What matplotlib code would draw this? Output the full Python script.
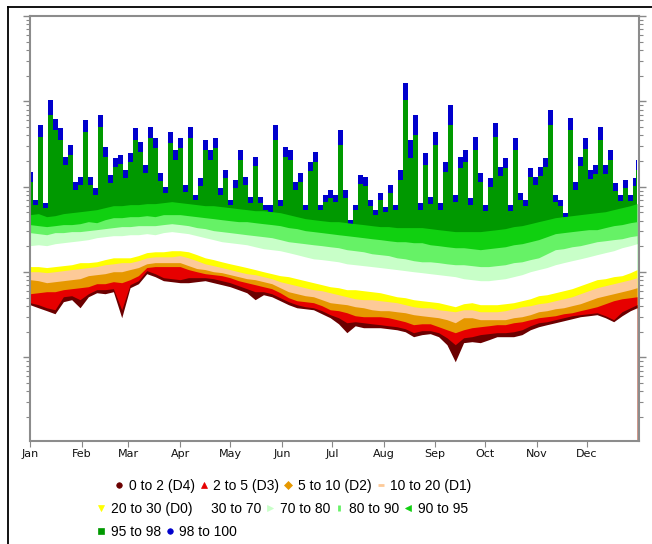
import matplotlib
matplotlib.use("Agg")
import matplotlib.pyplot as plt
from matplotlib.lines import Line2D

# day of year for the spiky top curves (every 3 days) and the other curves (every 5 days)
days_top = list(range(1, 365, 3)) + [365]
days = list(range(1, 362, 5)) + [365]

# percentile curves (log axis, discharge units)
p100 = [1500, 706, 5350, 651, 10500, 6290, 4930, 2250, 3120, 1150,
        1310, 6120, 1310, 977, 7000, 2950, 1387, 2190, 2380, 1585,
        2510, 4930, 3380, 1815, 5070, 3770, 1465, 1000, 4420, 2720,
        3770, 1058, 5070, 808, 1280, 3570, 2720, 3770, 977, 1585,
        706, 1211, 2720, 1310, 765, 2250, 765, 617, 617, 5350,
        706, 2950, 2720, 1150, 1465, 617, 1970, 2580, 617, 808,
        925, 808, 4670, 925, 411, 617, 1387, 1310, 706, 539,
        853, 584, 1058, 617, 1585, 16620, 3570, 7000, 651, 2510,
        765, 4420, 651, 1970, 9180, 808, 2250, 2720, 745, 3870,
        1465, 617, 1280, 5650, 1720, 2190, 617, 3770, 853, 706,
        1670, 1310, 1720, 2190, 8020, 808, 706, 497, 6460, 1150,
        2250, 3770, 1585, 1815, 5070, 1815, 2720, 1120, 808, 1211,
        808, 1280, 2080]
p98 = [1150, 617, 3860, 568, 7000, 4670, 3570, 1815, 2380, 925,
       1058, 4420, 1058, 808, 5070, 2250, 1120, 1720, 1865, 1280,
       1970, 3570, 2580, 1465, 3770, 2870, 1178, 853, 3290, 2080,
       2870, 876, 3770, 706, 1030, 2720, 2080, 2870, 808, 1280,
       617, 977, 2080, 1058, 651, 1766, 651, 539, 511, 3570,
       600, 2250, 2080, 925, 1150, 539, 1540, 1970, 539, 669,
       745, 669, 3120, 745, 370, 539, 1087, 1030, 600, 471,
       706, 511, 853, 539, 1211, 10500, 2190, 4080, 539, 1815,
       634, 3120, 539, 1500, 5350, 669, 1670, 1970, 617, 2720,
       1150, 524, 1000, 3860, 1350, 1670, 524, 2720, 706, 600,
       1310, 1058, 1350, 1720, 5350, 669, 600, 436, 4670, 925,
       1766, 2800, 1245, 1425, 3570, 1425, 2080, 900, 687, 977,
       687, 1030, 1585]
p95 = [471, 484, 446, 458, 484, 497, 510, 524, 539, 569,
       600, 600, 617, 617, 634, 634, 651, 669, 651, 634,
       617, 600, 600, 584, 569, 553, 539, 524, 524, 510,
       497, 471, 446, 423, 411, 400, 390, 390, 379, 369,
       360, 350, 341, 341, 332, 332, 332, 332, 323, 314,
       306, 298, 298, 298, 298, 306, 314, 323, 341, 350,
       369, 390, 411, 434, 446, 458, 471, 484, 497, 510,
       539, 569, 600, 634]
p90 = [360, 350, 341, 350, 360, 360, 369, 390, 379, 411,
       434, 434, 446, 446, 458, 446, 471, 471, 471, 458,
       446, 434, 423, 411, 400, 390, 390, 379, 369, 360,
       350, 332, 323, 306, 298, 290, 282, 274, 267, 260,
       253, 246, 240, 233, 227, 227, 221, 221, 209, 204,
       198, 193, 193, 188, 183, 188, 193, 198, 209, 215,
       227, 240, 260, 282, 290, 298, 306, 314, 314, 332,
       350, 360, 379, 390]
p80 = [290, 282, 274, 290, 290, 298, 298, 306, 314, 323,
       332, 341, 341, 350, 350, 350, 360, 369, 360, 350,
       332, 323, 306, 298, 290, 282, 274, 267, 260, 253,
       240, 227, 221, 215, 209, 204, 198, 193, 183, 178,
       173, 164, 160, 156, 147, 143, 136, 132, 132, 129,
       125, 122, 122, 119, 116, 116, 119, 122, 129, 132,
       140, 147, 164, 183, 188, 198, 204, 215, 227, 233,
       240, 246, 260, 267]
p70 = [204, 209, 204, 215, 221, 227, 233, 240, 253, 260,
       267, 267, 274, 274, 282, 274, 290, 298, 290, 282,
       267, 253, 240, 227, 221, 215, 209, 198, 188, 183,
       178, 169, 160, 151, 143, 140, 136, 132, 125, 122,
       119, 116, 113, 110, 107, 104, 101, 98.5, 95.8, 93.3,
       90.8, 88.4, 83.7, 81.5, 79.3, 79.3, 81.5, 83.7, 88.4, 93.3,
       101, 107, 113, 122, 129, 136, 143, 151, 160, 169,
       178, 193, 204, 215]
p30 = [116, 116, 113, 116, 119, 122, 129, 129, 132, 140,
       147, 147, 147, 156, 169, 173, 173, 178, 178, 173,
       160, 147, 140, 132, 125, 119, 113, 107, 101, 95.8,
       90.8, 88.4, 83.7, 79.3, 75.1, 71.2, 67.4, 65.6, 62.2, 62.2,
       60.5, 58.9, 57.3, 54.3, 51.4, 50.1, 47.5, 46.2, 45.0, 43.8,
       41.5, 39.3, 42.6, 43.8, 41.5, 41.5, 41.5, 42.6, 43.8, 46.2,
       48.7, 52.9, 54.3, 57.3, 60.5, 63.9, 69.3, 75.1, 81.5, 83.7,
       88.4, 90.8, 98.5, 107]
p20 = [101, 101, 98.5, 101, 104, 107, 110, 113, 116, 122,
       125, 129, 129, 136, 147, 151, 151, 151, 156, 147,
       136, 125, 119, 113, 107, 101, 95.8, 93.3, 88.4, 83.7,
       77.2, 73.1, 69.3, 65.6, 62.2, 60.5, 57.3, 54.3, 51.4, 48.7,
       47.5, 47.5, 46.2, 45.0, 43.8, 41.5, 39.3, 38.2, 38.2, 36.2,
       35.3, 34.3, 36.2, 36.2, 34.3, 34.3, 34.3, 35.3, 37.2, 39.3,
       40.4, 42.6, 43.8, 46.2, 48.7, 51.4, 55.8, 60.5, 65.6, 69.3,
       73.1, 77.2, 81.5, 86.0]
p10 = [81.5, 79.3, 75.1, 77.2, 79.3, 81.5, 83.7, 90.8, 93.3, 95.8,
       101, 101, 107, 113, 125, 129, 129, 129, 129, 119,
       110, 107, 101, 98.5, 93.3, 88.4, 83.7, 81.5, 77.2, 73.1,
       65.6, 58.9, 55.8, 52.9, 51.4, 47.5, 43.8, 42.6, 41.5, 39.3,
       38.2, 36.2, 35.3, 35.3, 34.3, 33.4, 31.7, 30.8, 30.0, 29.2,
       27.7, 25.5, 29.2, 29.2, 27.7, 27.7, 27.7, 27.7, 29.2, 30.0,
       31.7, 34.3, 35.3, 37.2, 38.2, 40.4, 42.6, 46.2, 50.1, 52.9,
       55.8, 58.9, 62.2, 65.6]
p5 = [55.8, 57.3, 58.9, 58.9, 62.2, 63.9, 65.6, 67.4, 73.1, 73.1,
      77.2, 75.1, 81.5, 90.8, 113, 116, 116, 116, 116, 107,
      101, 95.8, 93.3, 90.8, 86.0, 79.3, 75.1, 71.2, 67.4, 63.9,
      57.3, 50.1, 46.2, 45.0, 43.8, 40.4, 36.2, 35.3, 33.4, 30.8,
      30.0, 30.0, 30.0, 29.2, 27.7, 26.2, 24.2, 24.8, 24.8, 22.9,
      21.1, 19.5, 21.1, 22.3, 22.9, 23.5, 24.2, 24.2, 25.5, 26.2,
      27.7, 29.2, 30.0, 30.8, 32.5, 33.4, 35.3, 37.2, 39.3, 42.6,
      46.2, 48.7, 50.1, 51.4]
p2 = [43.8, 41.5, 38.2, 36.2, 51.4, 52.9, 47.5, 55.8, 62.2, 62.2,
      63.9, 36.2, 71.2, 79.3, 104, 95.8, 86.0, 83.7, 81.5, 86.0,
      86.0, 86.0, 83.7, 79.3, 75.1, 69.3, 63.9, 58.9, 58.9, 55.8,
      50.1, 45.0, 41.5, 39.3, 38.2, 35.3, 31.7, 29.2, 25.5, 26.2,
      25.5, 24.8, 24.2, 23.5, 22.9, 21.7, 19.5, 20.6, 20.6, 19.5,
      17.0, 14.1, 17.0, 17.5, 18.5, 19.0, 19.5, 19.5, 20.0, 21.1,
      23.5, 25.5, 26.2, 27.7, 29.2, 30.8, 31.7, 32.5, 33.4, 30.8,
      27.7, 34.3, 38.2, 41.5]
p0 = [41.5, 38.2, 35.3, 32.5, 45.0, 47.5, 38.2, 51.4, 57.3, 55.8,
      58.9, 29.2, 65.6, 73.1, 95.8, 88.4, 79.3, 77.2, 75.1, 75.1,
      77.2, 79.3, 75.1, 71.2, 67.4, 62.2, 57.3, 47.5, 54.3, 51.4,
      46.2, 41.5, 38.2, 37.2, 36.2, 32.5, 29.2, 24.8, 19.5, 23.5,
      22.3, 22.3, 22.3, 21.7, 21.1, 20.0, 17.5, 18.5, 19.0, 17.5,
      14.1, 8.9, 14.9, 15.3, 14.9, 16.1, 17.5, 17.5, 17.5, 18.5,
      21.1, 22.9, 24.2, 25.5, 26.9, 28.4, 30.0, 30.8, 31.7, 29.2,
      26.2, 30.8, 35.3, 38.2]

month_days = [1, 32, 60, 91, 121, 152, 182, 213, 244, 274, 305, 335]
month_labels = ['Jan', 'Feb', 'Mar', 'Apr', 'May', 'Jun',
                'Jul', 'Aug', 'Sep', 'Oct', 'Nov', 'Dec']

band_labels = ['0 to 2 (D4)', '2 to 5 (D3)', '5 to 10 (D2)', '10 to 20 (D1)',
               '20 to 30 (D0)', '30 to 70', '70 to 80', '80 to 90', '90 to 95',
               '95 to 98', '98 to 100']
band_colors = ['#6b0000', '#e60000', '#e69800', '#fdca98',
               '#ffff00', '#ffffff', '#c8ffc8', '#66f266', '#10d010',
               '#009900', '#0000cc']
band_markers = ['o', '^', 'D', '_', 'v', 'None', '>', '|', '<', 's', 'o']

fig = plt.figure(figsize=(6.52, 5.44), dpi=100)
ax = fig.add_axes([30/652, 1 - 441/544, 608.7/652, 425/544])
ax.set_yscale('log')

floor = 1e-3
# each curve filled down to the floor, top curve first, so the bands stack
ax.fill_between(days_top, p100, floor, color=band_colors[10], lw=0, step='mid')
ax.fill_between(days_top, p98, floor, color=band_colors[9], lw=0, step='mid')
layers = [(p95, 8), (p90, 7), (p80, 6), (p70, 5), (p30, 4),
          (p20, 3), (p10, 2), (p5, 1), (p2, 0)]
for curve, ci in layers:
    ax.fill_between(days, curve, floor, color=band_colors[ci], lw=0)
ax.fill_between(days, p0, floor, color='white', lw=0)

ax.set_xlim(1, 366)
ax.set_ylim(1.05, 1.0e5)

ax.set_xticks(month_days)
ax.set_xticklabels(month_labels, fontsize=8, color='#111111')
ax.tick_params(axis='x', direction='out', length=4, color='#888888', pad=2, top=False)
ax.tick_params(axis='y', which='both', left=True, right=True, labelleft=False,
               direction='out', color='#888888')
ax.tick_params(axis='y', which='major', length=5, width=1)
ax.tick_params(axis='y', which='minor', length=3, width=0.8)
for sp in ax.spines.values():
    sp.set_color('#8c8c8c')
    sp.set_linewidth(1.5)

# outer frame of the picture (left and top)
fig.add_artist(Line2D([8/652, 8/652], [0, 1 - 7/544], transform=fig.transFigure,
                      color='black', lw=1.3))
fig.add_artist(Line2D([8/652, 1], [1 - 7/544, 1 - 7/544], transform=fig.transFigure,
                      color='black', lw=1.3))

# legend in three rows
handles = []
for lab, col, mk in zip(band_labels, band_colors, band_markers):
    mew = 2 if mk in ('_', '|') else 0.5
    handles.append(Line2D([], [], linestyle='None', marker=mk, color=col,
                          markersize=4, markeredgewidth=mew, label=lab))

rows = [(handles[0:4], 114, 486), (handles[4:9], 96, 509), (handles[9:11], 96, 532)]
for hs, x0, y0 in rows:
    fig.legend(handles=hs, loc='center left', bbox_to_anchor=(x0/652, 1 - y0/544),
               ncol=len(hs), frameon=False, handlelength=0.7,
               handletextpad=0.35, columnspacing=0.3, borderpad=0, borderaxespad=0,
               prop={'family': 'Liberation Sans', 'size': 10})

fig.savefig('out.png', dpi=100)
